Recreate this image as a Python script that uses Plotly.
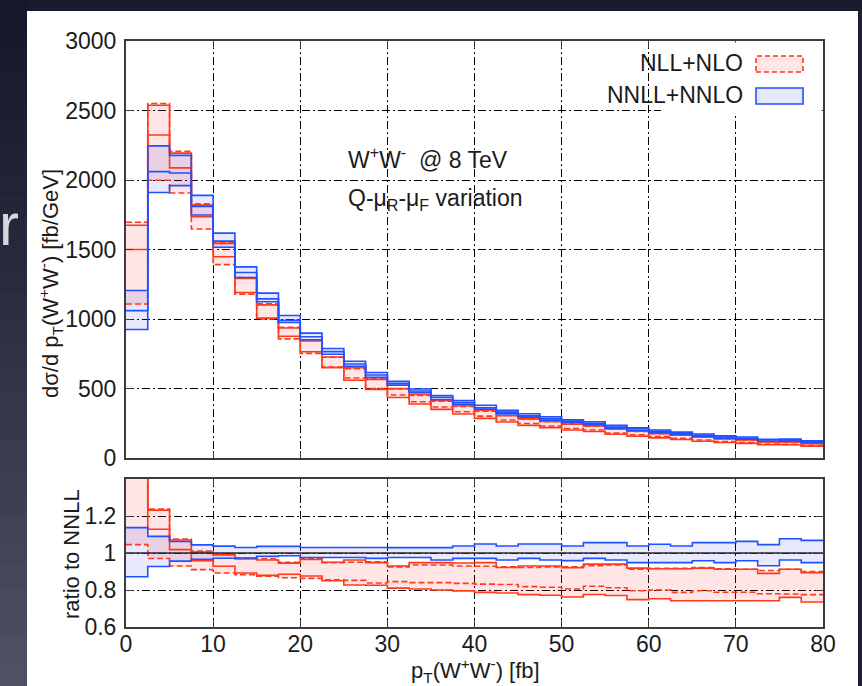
import numpy as np
import plotly.graph_objects as go

# ---------------------------------------------------------------- data
# pT(W+W-) bins of 2.5 GeV from 0 to 80
bin_edges = np.arange(0.0, 82.5, 2.5)

# NNLL+NNLO central prediction [fb/GeV]
nnll_central = [1060, 2060, 2050, 1810, 1560, 1335, 1145, 990, 872, 765,
                676, 597, 537, 482, 437, 398, 362, 330, 303, 283,
                264, 246, 222, 210, 192, 179, 163, 151, 142, 129, 126, 116]

# NNLL+NNLO scale band, as ratio to its central value
nnll_hi = [1.137, 1.090, 1.062, 1.044, 1.037, 1.030, 1.036, 1.036, 1.030, 1.030,
           1.030, 1.030, 1.029, 1.029, 1.029, 1.038, 1.049, 1.038, 1.049, 1.049,
           1.038, 1.056, 1.056, 1.038, 1.047, 1.038, 1.056, 1.056, 1.063, 1.045,
           1.077, 1.068]
nnll_lo = [0.872, 0.927, 0.956, 0.966, 0.972, 0.973, 0.982, 0.985, 0.976, 0.976,
           0.976, 0.971, 0.976, 0.976, 0.962, 0.971, 0.971, 0.962, 0.971, 0.962,
           0.959, 0.971, 0.962, 0.948, 0.948, 0.948, 0.958, 0.948, 0.958, 0.931,
           0.962, 0.948]

# NLL+NLO variations, as ratio to the NNLL central value
nll_hi_dash = [1.600, 1.238, 1.076, 1.010, 0.995, 0.973, 0.969, 0.950, 0.971, 0.948,
               0.950, 0.953, 0.925, 0.935, 0.935, 0.930, 0.928, 0.926, 0.922, 0.925,
               0.926, 0.932, 0.935, 0.912, 0.917, 0.917, 0.921, 0.915, 0.912, 0.905,
               0.912, 0.900]
nll_hi_solid = [1.580, 1.232, 1.070, 1.005, 0.990, 0.968, 0.962, 0.945, 0.965, 0.950,
                0.962, 0.948, 0.930, 0.948, 0.948, 0.946, 0.948, 0.922, 0.930, 0.930,
                0.920, 0.940, 0.940, 0.918, 0.915, 0.915, 0.918, 0.912, 0.912, 0.890,
                0.912, 0.894]
nll_lo_solid = [1.415, 1.128, 1.018, 0.959, 0.928, 0.892, 0.879, 0.885, 0.876, 0.850,
                0.827, 0.826, 0.810, 0.805, 0.800, 0.795, 0.787, 0.784, 0.775, 0.772,
                0.762, 0.776, 0.770, 0.748, 0.753, 0.742, 0.742, 0.742, 0.742, 0.742,
                0.760, 0.735]
nll_lo_dash = [1.045, 0.970, 0.930, 0.910, 0.892, 0.883, 0.874, 0.866, 0.863, 0.855,
               0.852, 0.838, 0.845, 0.840, 0.840, 0.836, 0.832, 0.830, 0.818, 0.815,
               0.805, 0.820, 0.812, 0.796, 0.800, 0.787, 0.796, 0.788, 0.788, 0.780,
               0.778, 0.775]

# ---------------------------------------------------------------- styling
W, H = 862, 686
ML, MR, MT, MB = 126, 39, 41, 59
PW, PH = W - ML - MR, H - MT - MB

RED = "#ff3a1c"
BLUE = "#2150ff"
RED_FILL = "rgba(255,40,40,0.12)"
BLUE_FILL = "rgba(40,40,235,0.10)"
FONT = "Liberation Sans, Arial, Helvetica, sans-serif"
TXT = "#1b1b1b"
GRID_DASH = "8px,3px,2px,3px"
TICK_SIZE = 23


def px_x(px):
    return (px - ML) / PW


def px_y(py):
    return (H - MB - py) / PH


def step_xy(vals):
    v = list(vals)
    return list(bin_edges), v + [v[-1]]


central = np.array(nnll_central, dtype=float)
red_sets = {
    "hi_dash": np.array(nll_hi_dash),
    "hi_solid": np.array(nll_hi_solid),
    "lo_solid": np.array(nll_lo_solid),
    "lo_dash": np.array(nll_lo_dash),
}
red_env_hi = np.max(np.vstack(list(red_sets.values())), axis=0)
red_env_lo = np.min(np.vstack(list(red_sets.values())), axis=0)
blue_hi = np.array(nnll_hi)
blue_lo = np.array(nnll_lo)

fig = go.Figure()


def add_panel(scale, xa, ya):
    """Bands and lines; scale=central for the spectrum, 1 for the ratio."""
    def add_line(r, color, dash=None, width=1.6, fill=None, fillcolor=None):
        x, y = step_xy(r * scale)
        fig.add_trace(go.Scatter(
            x=x, y=y, mode="lines", xaxis=xa, yaxis=ya,
            line=dict(shape="hv", color=color, width=width, dash=dash),
            fill=fill, fillcolor=fillcolor, hoverinfo="skip", showlegend=False))

    # filled bands
    add_line(red_env_lo, "rgba(0,0,0,0)", width=0)
    add_line(red_env_hi, "rgba(0,0,0,0)", width=0, fill="tonexty", fillcolor=RED_FILL)
    add_line(blue_lo, "rgba(0,0,0,0)", width=0)
    add_line(blue_hi, "rgba(0,0,0,0)", width=0, fill="tonexty", fillcolor=BLUE_FILL)
    # NLL+NLO lines
    add_line(red_sets["hi_dash"], RED, dash="6px,3px")
    add_line(red_sets["hi_solid"], RED)
    add_line(red_sets["lo_solid"], RED)
    add_line(red_sets["lo_dash"], RED, dash="6px,3px")
    # NNLL+NNLO lines
    add_line(blue_hi, BLUE)
    add_line(blue_lo, BLUE)
    if np.ndim(scale):
        add_line(np.ones_like(central), BLUE)
    else:
        add_line(np.ones_like(central), "#2a2a2a", width=1.4)


add_panel(central, "x", "y")
add_panel(1.0, "x2", "y2")

axis_common = dict(
    showline=True, linecolor="#3c3c3c", linewidth=2, mirror="ticks",
    ticks="inside", ticklen=7, tickcolor="#3c3c3c", tickwidth=1.2,
    showgrid=True, gridcolor="#000000", gridwidth=1, griddash=GRID_DASH,
    zeroline=False, tickfont=dict(family=FONT, size=TICK_SIZE, color=TXT),
)

fig.update_layout(
    width=W, height=H,
    margin=dict(l=ML, r=MR, t=MT, b=MB, pad=0),
    paper_bgcolor="#232339", plot_bgcolor="white",
    showlegend=False,
    xaxis=dict(axis_common, domain=[0, 1], range=[0, 80], tickvals=list(range(0, 90, 10)),
               showticklabels=False, anchor="y"),
    yaxis=dict(axis_common, domain=[px_y(458), 1], range=[0, 3000],
               tickvals=list(range(0, 3500, 500)), anchor="x", ticklabelstandoff=3),
    xaxis2=dict(axis_common, domain=[0, 1], range=[0, 80], tickvals=list(range(0, 90, 10)),
                anchor="y2", matches="x", ticklabelstandoff=-5),
    yaxis2=dict(axis_common, domain=[0, px_y(479)], range=[0.6, 1.4],
                tickvals=[0.6, 0.8, 1.0, 1.2], ticktext=["0.6", "0.8", "1", "1.2"],
                anchor="x2", ticklabelstandoff=3),
)

shapes = []
# slide backdrop: vertical shading on the left strip and top band
n_band = 28
c_top = np.array([24, 24, 44])
c_bot = np.array([80, 82, 104])
for i in range(n_band):
    y0 = H * i / n_band
    y1 = H * (i + 1) / n_band
    c = (c_top + (c_bot - c_top) * ((i + 0.5) / n_band) ** 1.2).astype(int)
    shapes.append(dict(type="rect", xref="paper", yref="paper", layer="below",
                       x0=px_x(-2), x1=px_x(28), y0=px_y(y1 + 1), y1=px_y(y0),
                       line=dict(width=0), fillcolor=f"rgb({c[0]},{c[1]},{c[2]})"))
shapes.append(dict(type="rect", xref="paper", yref="paper", layer="below",
                   x0=px_x(27), x1=px_x(864), y0=px_y(12), y1=px_y(-2),
                   line=dict(width=0), fillcolor="rgb(26,26,46)"))
shapes.append(dict(type="rect", xref="paper", yref="paper", layer="below",
                   x0=px_x(858), x1=px_x(864), y0=px_y(688), y1=px_y(11),
                   line=dict(width=0), fillcolor="rgb(30,30,50)"))
# white slide panel
shapes.append(dict(type="rect", xref="paper", yref="paper", layer="below",
                   x0=px_x(27), x1=px_x(858), y0=px_y(688), y1=px_y(11),
                   line=dict(width=0), fillcolor="white"))
# opaque key area
shapes.append(dict(type="rect", xref="paper", yref="paper", layer="above",
                   x0=px_x(661), x1=px_x(821.5), y0=px_y(114), y1=px_y(42.5),
                   line=dict(width=0), fillcolor="white"))
# key swatches
shapes.append(dict(type="rect", xref="paper", yref="paper", layer="above",
                   x0=px_x(756), x1=px_x(803), y0=px_y(72), y1=px_y(56),
                   line=dict(color=RED, width=1.6, dash="5px,3px"),
                   fillcolor="rgb(255,229,229)"))
shapes.append(dict(type="rect", xref="paper", yref="paper", layer="above",
                   x0=px_x(756), x1=px_x(803), y0=px_y(104), y1=px_y(88),
                   line=dict(color=BLUE, width=1.6), fillcolor="rgb(232,232,252)"))
fig.update_layout(shapes=shapes)


def note(text, px, py, size=22, xanchor="left", angle=0, color=TXT, yanchor="middle"):
    return dict(text=text, xref="paper", yref="paper", x=px_x(px), y=px_y(py),
                xanchor=xanchor, yanchor=yanchor, showarrow=False, textangle=angle,
                font=dict(family=FONT, size=size, color=color))


annotations = [
    note("NLL+NLO", 745, 63, size=23, xanchor="right"),
    note("NNLL+NNLO", 745, 95, size=23, xanchor="right"),
    note("W<sup>+</sup>W<sup>-</sup>&nbsp;&nbsp;@ 8 TeV", 346, 158, size=23),
    note("Q-μ<sub>R</sub>-μ<sub>F</sub> variation", 346, 199, size=23),
    note("dσ/d p<sub>T</sub>(W<sup>+</sup>W<sup>-</sup>) [fb/GeV]", 50, 284, angle=-90,
         xanchor="center"),
    note("ratio to NNLL", 71, 554, angle=-90, xanchor="center"),
    note("p<sub>T</sub>(W<sup>+</sup>W<sup>-</sup>) [fb]", 475, 670, size=22,
         xanchor="center"),
    note("r", -3, 224, size=60, color="#d6d6de"),
]
fig.update_layout(annotations=annotations)

fig.write_html("out.html")
